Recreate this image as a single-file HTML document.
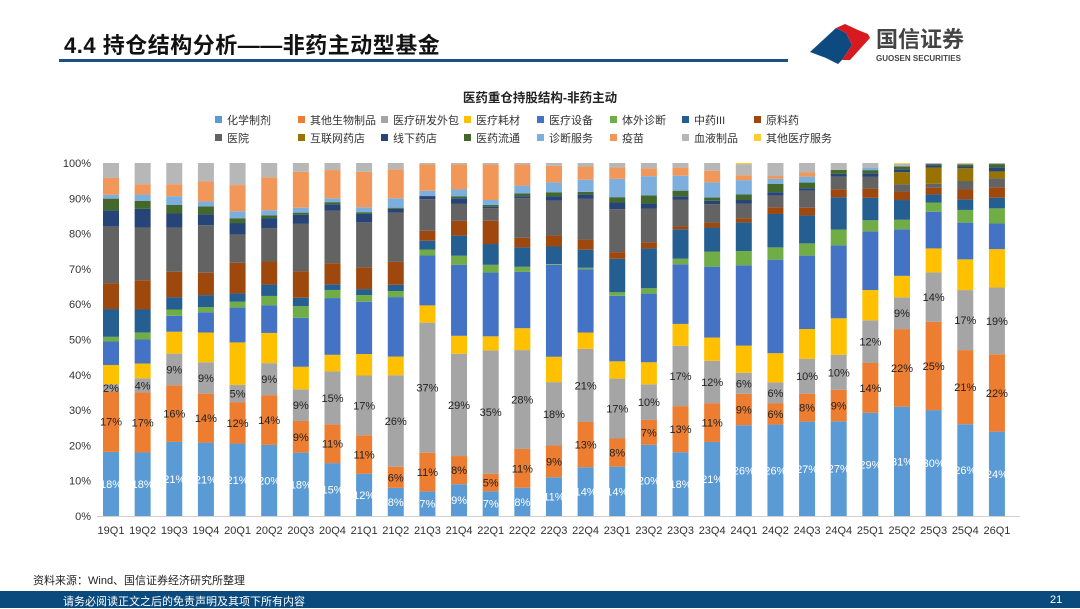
<!DOCTYPE html>
<html><head><meta charset="utf-8">
<style>
body{margin:0;width:1080px;height:608px;overflow:hidden;background:#fff;font-family:"Liberation Sans","Noto Sans CJK SC",sans-serif;position:relative}
.abs{position:absolute}
</style></head><body>
<div class="abs" style="left:64px;top:28px;font-size:22px;font-weight:bold;color:#111;letter-spacing:0.5px">4.4 持仓结构分析——非药主动型基金</div>
<div class="abs" style="left:59px;top:59px;width:729px;height:3px;background:#1b4f86"></div>
<svg class="abs" style="left:0;top:0" width="1080" height="80">
<polygon points="810,52 836,28 846,33 852,45 842,60 838,64 826,58" fill="#0d4a80"/>
<polygon points="836,28 845,24 858,30 868,34 870,38 850,60 842,60 852,45 846,33" fill="#d71920"/>
<text x="876" y="47" font-size="22" font-weight="bold" fill="#444" font-family="Liberation Sans,Noto Sans CJK SC,sans-serif">国信证券</text>
<text x="876" y="61" font-size="8" font-weight="bold" fill="#444" font-family="Liberation Sans,sans-serif">GUOSEN SECURITIES</text>
</svg>
<div class="abs" style="left:0;width:1080px;top:87px;text-align:center;font-size:12.5px;font-weight:bold;color:#222">医药重仓持股结构-非药主动</div>
<div id="legend"></div>
<svg id="chart" class="abs" style="left:0;top:0" width="1080" height="608"></svg>
<div class="abs" style="left:33px;top:572px;font-size:11px;color:#222">资料来源：Wind、国信证券经济研究所整理</div>
<div class="abs" style="left:0;top:591px;width:1080px;height:17px;background:#0b4a7d"></div>
<div class="abs" style="left:63px;top:593px;font-size:11px;color:#fff">请务必阅读正文之后的免责声明及其项下所有内容</div>
<div class="abs" style="left:1050px;top:594px;font-size:11px;color:#fff">21</div>
<script>
const categories=["19Q1","19Q2","19Q3","19Q4","20Q1","20Q2","20Q3","20Q4","21Q1","21Q2","21Q3","21Q4","22Q1","22Q2","22Q3","22Q4","23Q1","23Q2","23Q3","23Q4","24Q1","24Q2","24Q3","24Q4","25Q1","25Q2","25Q3","25Q4","26Q1"];
const seriesNames=["化学制剂","其他生物制品","医疗研发外包","医疗耗材","医疗设备","体外诊断","中药III","原料药","医院","互联网药店","线下药店","医药流通","诊断服务","疫苗","血液制品","其他医疗服务"];
const chem=[18,18,21,21,21,20,18,15,12,8,7,9,7,8,11,14,14,20,18,21,26,26,27,27,29,31,30,26,24];
const bio=[17,17,16,14,12,14,9,11,11,6,11,8,5,11,9,13,8,7,13,11,9,6,8,9,14,22,25,21,22];
const cro=[2,4,9,9,5,9,9,15,17,26,37,29,35,28,18,21,17,10,17,12,6,6,10,10,12,9,14,17,19];
const consum=[5.4,4.2,6.2,8.5,12.3,8.5,6.4,4.7,6.1,5.3,4.9,5.1,4,6.2,7.2,4.7,4.9,6.2,6.2,6.6,7.8,8.3,8.5,10.4,8.5,6.1,6.8,8.7,10.9];
const device=[6.6,6.8,4.5,5.8,10.1,7.8,13.9,16.1,14.9,16.9,14.2,20.1,18.1,16,26.1,18.2,18.6,19.3,16.8,20.1,23,26.6,21,20.8,16.5,13.2,10.4,10.4,7.3];
const ivd=[1.3,2,1.8,1.5,1.7,2.6,3.3,2.3,1.9,1.7,1.7,2.6,2.2,1.4,0.2,0.4,1,1.5,1.6,4.3,4.1,3.5,3.5,4.5,3.1,2.7,2.6,3.6,4.3];
const tcm=[7.8,6.5,3.5,3.4,2.4,3.2,2.4,1.6,1.7,1.8,2.5,5.7,5.9,5.5,5,5.2,9.5,11.2,8.3,6.8,8.2,9.5,8,9.2,6.3,5.6,2.3,3,3];
const api=[7.2,8.3,7.2,6.4,8.9,6.5,7.5,6,6.2,6.5,2.8,4.2,6.6,2.7,3.1,2.9,1.9,1.7,0.9,1.4,1.2,1.9,2.2,2.3,2.6,2.4,1.9,2.8,3];
const hospital=[16,14.9,12.5,13.6,8.2,9.4,13.5,14.9,12.8,14,9,4.8,3.6,11.2,9.9,11.7,12.2,9.5,7.5,5.2,4.1,3.3,4.9,3.6,3.3,2.1,1.1,2.4,2.6];
const online=[0,0,0,0,0,0,0,0,0,0,0,0,0,0,0,0,0,0,0,0,0,0,0,0,0,3.4,4.6,3.6,1.9];
const offline=[4.5,5.3,4,3.1,3.3,2.8,2.6,1.8,2.4,1.1,0.9,1.6,0.4,0.6,1.3,1.3,1.9,1.4,0.9,1,1.1,1,0.7,0.8,1,0.8,0.7,0.5,1.2];
const distrib=[3.3,2.3,2.4,2.3,1.4,0.8,0.6,0.6,0.5,0.3,0,0.5,0.5,0.8,1.1,0.7,1.5,2.3,1.6,0.9,1.6,2.4,1.6,1.1,0.9,0.8,0.3,0.6,0.9];
const diagSvc=[1.1,1.8,2.5,1.4,2,1.4,1.4,1.1,1.4,2.7,1.5,2,1.4,2.2,2.8,3.5,5.2,5.4,4.2,4.3,4.1,1.4,1.7,0,0.7,0,0,0,0];
const vaccine=[4.7,2.9,3.4,5.7,7.6,9.3,10.2,8,10.1,8.2,7.5,7.1,10.1,6,4.7,3.8,3.2,2.2,2.3,3.3,1.4,0.8,1.2,0,0,0,0,0,0];
const blood=[4.2,6,6,5.3,6.4,4,2.5,2,2.5,1.8,0.4,0.4,0.4,0.4,0.8,1,1.3,1.5,1.3,2.2,3.2,3.7,2.7,2,1.3,0.8,0.3,0.3,0.3];
const otherSvc=[0,0,0,0,0,0,0,0,0,0,0,0,0,0,0,0,0,0,0,0,0.3,0,0,0,0,0.2,0,0.1,0];
const yTicks=["0%","10%","20%","30%","40%","50%","60%","70%","80%","90%","100%"];

const series=[chem,bio,cro,consum,device,ivd,tcm,api,hospital,online,offline,distrib,diagSvc,vaccine,blood,otherSvc];
const colors=["#5b9bd5","#ed7d31","#a5a5a5","#ffc000","#4472c4","#70ad47","#255e91","#9e480e","#636363","#997300","#264478","#43682b","#7cafdd","#f1975a","#b7b7b7","#ffcd33"];
const NS="http://www.w3.org/2000/svg";
const svg=document.getElementById('chart');
const y0=516,y1=163,xFirst=111,xStep=31.64,bw=16;
const yScale=p=>y0-(y0-y1)*p/100;
const xScale=i=>xFirst+i*xStep;
function mk(tag,attrs){const e=document.createElementNS(NS,tag);for(const k in attrs)e.setAttribute(k,attrs[k]);svg.appendChild(e);return e;}
yTicks.forEach((t,i)=>{const e=mk('text',{x:91,y:yScale(i*10)+4,'text-anchor':'end','font-size':11,fill:'#333'});e.textContent=t;

});
const ax=mk('line',{x1:97,x2:1020,y1:y0+0.5,y2:y0+0.5,stroke:'#d0d0d0','stroke-width':1});


categories.forEach((c,i)=>{
  const total=series.reduce((s,a)=>s+a[i],0);
  let cum=0;
  series.forEach((arr,si)=>{
    const v=arr[i];if(v<=0)return;
    const ya=yScale(cum/total*100),yb=yScale((cum+v)/total*100);
    const r=mk('rect',{x:xScale(i)-bw/2,y:yb,width:bw,height:ya-yb,fill:colors[si]});
    
    
    if(si<3){
      const t=mk('text',{x:xScale(i),y:(ya+yb)/2+4,'text-anchor':'middle','font-size':11,fill:si===0?'#fff':'#222'});
      t.textContent=Math.round(v)+'%';
      
      
    }
    cum+=v;
  });
  const l=mk('text',{x:xScale(i),y:534,'text-anchor':'middle','font-size':11,fill:'#333'});
  l.textContent=c;
  
  
});
const lg=document.getElementById('legend');
const colX=[215,298,381,464,537,610,682,754];
seriesNames.forEach((n,i)=>{
  const d=document.createElement('div');
  
  
  d.className='abs';
  d.style.cssText='left:'+colX[i%8]+'px;top:'+(114+Math.floor(i/8)*18)+'px;font-size:11px;color:#333;white-space:nowrap;line-height:14px';
  d.innerHTML='<span style="display:inline-block;width:7px;height:7px;background:'+colors[i]+';margin-right:5px;vertical-align:1px"></span>'+n;
  lg.appendChild(d);
});
</script>
</body></html>
